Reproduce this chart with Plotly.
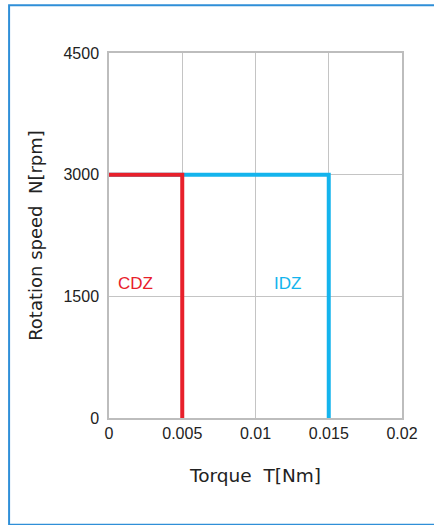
import plotly.graph_objects as go

# rated zone outlines (torque in Nm, speed in rpm)
cdz_torque = [0, 0.005, 0.005]
cdz_speed = [3000, 3000, 0]
idz_torque = [0, 0.015, 0.015]
idz_speed = [3000, 3000, 0]

x_ticks = [0, 0.005, 0.01, 0.015, 0.02]
x_tick_text = ["0", "0.005", "0.01", "0.015", "0.02"]
y_ticks = [0, 1500, 3000, 4500]

red = "#e8202b"
blue = "#14b4ed"

fig = go.Figure()

# blue first so the red one sits on top
fig.add_scatter(x=idz_torque, y=idz_speed, mode="lines", line=dict(color=blue, width=4), showlegend=False)
fig.add_scatter(x=cdz_torque, y=cdz_speed, mode="lines", line=dict(color=red, width=4), showlegend=False)

# zone labels
fig.add_annotation(x=0.00045, y=1664, text="CDZ", showarrow=False, xanchor="left",
                   font=dict(color=red, size=17, family="Liberation Sans"))
fig.add_annotation(x=0.0111, y=1664, text="IDZ", showarrow=False, xanchor="left",
                   font=dict(color=blue, size=17, family="Liberation Sans"))

# outer frame (right side runs off the page)
fig.add_shape(type="rect", xref="paper", yref="paper", x0=-0.341, x1=1.25, y0=-0.2925, y1=1.131,
              line=dict(color="#2f8fd8", width=2), layer="below")

fig.update_xaxes(range=[0, 0.02], tickvals=x_ticks, ticktext=x_tick_text, showgrid=True,
                 gridcolor="#c4c4c4", gridwidth=1, showline=True, linecolor="#bdbdbd", linewidth=1.5,
                 mirror=True, zeroline=False, ticks="", tickfont=dict(size=16, color="#222222"),
                 title=dict(text="Torque  T[Nm]", standoff=28,
                            font=dict(size=18.5, color="#222222", family="DejaVu Sans")))
fig.update_yaxes(range=[0, 4500], tickvals=y_ticks, showgrid=True,
                 gridcolor="#c4c4c4", gridwidth=1, showline=True, linecolor="#bdbdbd", linewidth=1.5,
                 mirror=True, zeroline=False, ticks="", ticklabelstandoff=5,
                 tickfont=dict(size=16, color="#222222"),
                 title=dict(text="Rotation speed  N[rpm]", standoff=16,
                            font=dict(size=18, color="#222222", family="DejaVu Sans")))

fig.update_layout(width=434, height=525, margin=dict(l=109, r=32, t=53, b=107),
                  plot_bgcolor="white", paper_bgcolor="white",
                  font=dict(family="Liberation Sans"))

# drop the default page margin so the figure sits at the window corner
fig.write_html("out.html", config={"displayModeBar": False},
               post_script="document.body.style.margin='0';")
